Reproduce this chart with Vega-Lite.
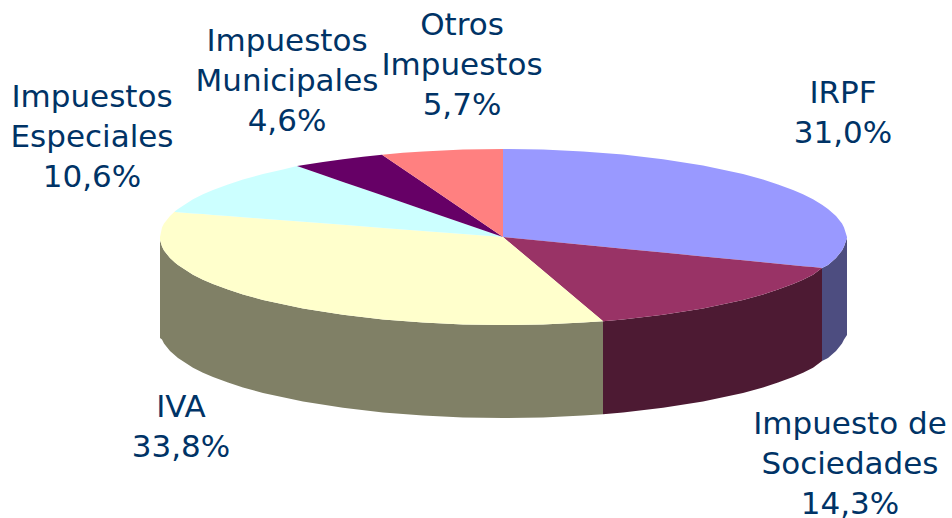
{"$schema":"https://vega.github.io/schema/vega-lite/v6.json","autosize":{"type":"none"},"width":952,"height":518,"padding":0,"background":"white","view":{"stroke":null},
"datasets":{
"walls":[
{"part":"IVA lado","x":160,"y":240,"y2":338},{"part":"IVA lado","x":162,"y":246.5,"y2":339.5},{"part":"IVA lado","x":164,"y":250.4,"y2":343.4},{"part":"IVA lado","x":170,"y":258.1,"y2":351.1},{"part":"IVA lado","x":178,"y":265.1,"y2":358.1},{"part":"IVA lado","x":193,"y":274.7,"y2":367.7},{"part":"IVA lado","x":203,"y":279.7,"y2":372.7},{"part":"IVA lado","x":213,"y":284,"y2":377},{"part":"IVA lado","x":228,"y":289.6,"y2":382.6},{"part":"IVA lado","x":243,"y":294.4,"y2":387.4},{"part":"IVA lado","x":263,"y":299.9,"y2":392.9},{"part":"IVA lado","x":303,"y":308.5,"y2":401.5},{"part":"IVA lado","x":343,"y":314.8,"y2":407.8},{"part":"IVA lado","x":383,"y":319.4,"y2":412.4},{"part":"IVA lado","x":423,"y":322.6,"y2":415.6},{"part":"IVA lado","x":463,"y":324.4,"y2":417.4},{"part":"IVA lado","x":503,"y":325,"y2":418},{"part":"IVA lado","x":543,"y":324.4,"y2":417.4},{"part":"IVA lado","x":583,"y":322.6,"y2":415.6},{"part":"IVA lado","x":603,"y":321.2,"y2":414.2},
{"part":"Sociedades lado","x":603,"y":321.2,"y2":414.2},{"part":"Sociedades lado","x":623,"y":319.4,"y2":412.4},{"part":"Sociedades lado","x":663,"y":314.8,"y2":407.8},{"part":"Sociedades lado","x":703,"y":308.5,"y2":401.5},{"part":"Sociedades lado","x":743,"y":299.9,"y2":392.9},{"part":"Sociedades lado","x":763,"y":294.4,"y2":387.4},{"part":"Sociedades lado","x":778,"y":289.6,"y2":382.6},{"part":"Sociedades lado","x":793,"y":284,"y2":377},{"part":"Sociedades lado","x":803,"y":279.7,"y2":372.7},{"part":"Sociedades lado","x":813,"y":274.7,"y2":367.7},{"part":"Sociedades lado","x":822,"y":268,"y2":361},
{"part":"IRPF lado","x":822,"y":268,"y2":361},{"part":"IRPF lado","x":828,"y":265.1,"y2":358.1},{"part":"IRPF lado","x":836,"y":258.1,"y2":351.1},{"part":"IRPF lado","x":842,"y":250.4,"y2":343.4},{"part":"IRPF lado","x":844,"y":246.5,"y2":339.5},{"part":"IRPF lado","x":847,"y":238,"y2":335}
],
"tops":[
{"part":"IRPF","x":503,"y":149,"y2":237},{"part":"IRPF","x":543,"y":149.6,"y2":240.9},{"part":"IRPF","x":583,"y":151.4,"y2":244.8},{"part":"IRPF","x":623,"y":154.6,"y2":248.7},{"part":"IRPF","x":663,"y":159.2,"y2":252.6},{"part":"IRPF","x":703,"y":165.5,"y2":256.4},{"part":"IRPF","x":743,"y":174.1,"y2":260.3},{"part":"IRPF","x":763,"y":179.6,"y2":262.3},{"part":"IRPF","x":778,"y":184.4,"y2":263.7},{"part":"IRPF","x":793,"y":190,"y2":265.2},{"part":"IRPF","x":803,"y":194.3,"y2":266.2},{"part":"IRPF","x":813,"y":199.3,"y2":267.1},{"part":"IRPF","x":822,"y":204.7,"y2":268},{"part":"IRPF","x":828,"y":208.9,"y2":265.1},{"part":"IRPF","x":836,"y":215.9,"y2":258.1},{"part":"IRPF","x":842,"y":223.6,"y2":250.4},{"part":"IRPF","x":844,"y":227.5,"y2":246.5},{"part":"IRPF","x":847,"y":237,"y2":238},
{"part":"Sociedades","x":503,"y":237,"y2":237},{"part":"Sociedades","x":603,"y":246.7,"y2":321.2},{"part":"Sociedades","x":623,"y":248.7,"y2":319.4},{"part":"Sociedades","x":663,"y":252.6,"y2":314.8},{"part":"Sociedades","x":703,"y":256.4,"y2":308.5},{"part":"Sociedades","x":743,"y":260.3,"y2":299.9},{"part":"Sociedades","x":763,"y":262.3,"y2":294.4},{"part":"Sociedades","x":778,"y":263.7,"y2":289.6},{"part":"Sociedades","x":793,"y":265.2,"y2":284},{"part":"Sociedades","x":803,"y":266.2,"y2":279.7},{"part":"Sociedades","x":813,"y":267.1,"y2":274.7},{"part":"Sociedades","x":822,"y":268,"y2":268},
{"part":"IVA","x":160,"y":237,"y2":240},{"part":"IVA","x":162,"y":227.5,"y2":246.5},{"part":"IVA","x":164,"y":223.6,"y2":250.4},{"part":"IVA","x":170,"y":215.9,"y2":258.1},{"part":"IVA","x":175,"y":211.3,"y2":262.7},{"part":"IVA","x":178,"y":212.2,"y2":265.1},{"part":"IVA","x":193,"y":213.4,"y2":274.7},{"part":"IVA","x":203,"y":214.1,"y2":279.7},{"part":"IVA","x":213,"y":214.9,"y2":284},{"part":"IVA","x":228,"y":216,"y2":289.6},{"part":"IVA","x":243,"y":217.2,"y2":294.4},{"part":"IVA","x":263,"y":218.7,"y2":299.9},{"part":"IVA","x":303,"y":221.8,"y2":308.5},{"part":"IVA","x":343,"y":224.8,"y2":314.8},{"part":"IVA","x":383,"y":227.9,"y2":319.4},{"part":"IVA","x":423,"y":230.9,"y2":322.6},{"part":"IVA","x":463,"y":234,"y2":324.4},{"part":"IVA","x":503,"y":237,"y2":325},{"part":"IVA","x":543,"y":270.6,"y2":324.4},{"part":"IVA","x":583,"y":304.2,"y2":322.6},{"part":"IVA","x":603,"y":321,"y2":321.2},
{"part":"Especiales","x":175,"y":211.3,"y2":212},{"part":"Especiales","x":178,"y":208.9,"y2":212.2},{"part":"Especiales","x":193,"y":199.3,"y2":213.4},{"part":"Especiales","x":203,"y":194.3,"y2":214.1},{"part":"Especiales","x":213,"y":190,"y2":214.9},{"part":"Especiales","x":228,"y":184.4,"y2":216},{"part":"Especiales","x":243,"y":179.6,"y2":217.2},{"part":"Especiales","x":263,"y":174.1,"y2":218.7},{"part":"Especiales","x":283,"y":169.5,"y2":220.2},{"part":"Especiales","x":297,"y":166,"y2":221.3},{"part":"Especiales","x":343,"y":181.9,"y2":224.8},{"part":"Especiales","x":383,"y":195.6,"y2":227.9},{"part":"Especiales","x":423,"y":209.4,"y2":230.9},{"part":"Especiales","x":463,"y":223.2,"y2":234},{"part":"Especiales","x":503,"y":237,"y2":237},
{"part":"Municipales","x":297,"y":166,"y2":166},{"part":"Municipales","x":323,"y":162.1,"y2":175},{"part":"Municipales","x":343,"y":159.2,"y2":181.9},{"part":"Municipales","x":363,"y":156.7,"y2":188.7},{"part":"Municipales","x":382,"y":154.7,"y2":195.3},{"part":"Municipales","x":423,"y":182.6,"y2":209.4},{"part":"Municipales","x":463,"y":209.8,"y2":223.2},{"part":"Municipales","x":503,"y":237,"y2":237},
{"part":"Otros","x":382,"y":154.7,"y2":154.7},{"part":"Otros","x":403,"y":152.8,"y2":169},{"part":"Otros","x":423,"y":151.4,"y2":182.6},{"part":"Otros","x":463,"y":149.6,"y2":209.8},{"part":"Otros","x":503,"y":149,"y2":237}
],
"labels":[
{"label":"IRPF\n31,0%","x":843,"y":103},
{"label":"Impuesto de\nSociedades\n14,3%","x":850,"y":434},
{"label":"IVA\n33,8%","x":181,"y":417},
{"label":"Impuestos\nEspeciales\n10,6%","x":92,"y":107},
{"label":"Impuestos\nMunicipales\n4,6%","x":287,"y":51},
{"label":"Otros\nImpuestos\n5,7%","x":462,"y":35}
]},
"layer":[
{"data":{"name":"walls"},"mark":{"type":"area","interpolate":"linear","opacity":1},"encoding":{"x":{"field":"x","type":"quantitative","scale":{"domain":[0,952],"nice":false,"zero":false},"axis":null},"y":{"field":"y","type":"quantitative","stack":null,"scale":{"domain":[518,0],"nice":false,"zero":false},"axis":null},"y2":{"field":"y2"},"color":{"field":"part","type":"nominal","legend":null,"scale":{"domain":["IVA lado","Sociedades lado","IRPF lado","IRPF","Sociedades","IVA","Especiales","Municipales","Otros"],"range":["#808066","#4D1A33","#4D4D80","#9999FF","#993366","#FFFFCC","#CCFFFF","#660066","#FF8080"]}}}},
{"data":{"name":"tops"},"mark":{"type":"area","interpolate":"linear","opacity":1},"encoding":{"x":{"field":"x","type":"quantitative","scale":{"domain":[0,952],"nice":false,"zero":false},"axis":null},"y":{"field":"y","type":"quantitative","stack":null,"scale":{"domain":[518,0],"nice":false,"zero":false},"axis":null},"y2":{"field":"y2"},"color":{"field":"part","type":"nominal","legend":null}}},
{"data":{"name":"labels"},"mark":{"type":"text","font":"DejaVu Sans","fontSize":31,"color":"#003366","align":"center","baseline":"alphabetic","lineBreak":"\n","lineHeight":40},"encoding":{"x":{"field":"x","type":"quantitative","scale":{"domain":[0,952],"nice":false,"zero":false},"axis":null},"y":{"field":"y","type":"quantitative","scale":{"domain":[518,0],"nice":false,"zero":false},"axis":null},"text":{"field":"label"}}}
]}
